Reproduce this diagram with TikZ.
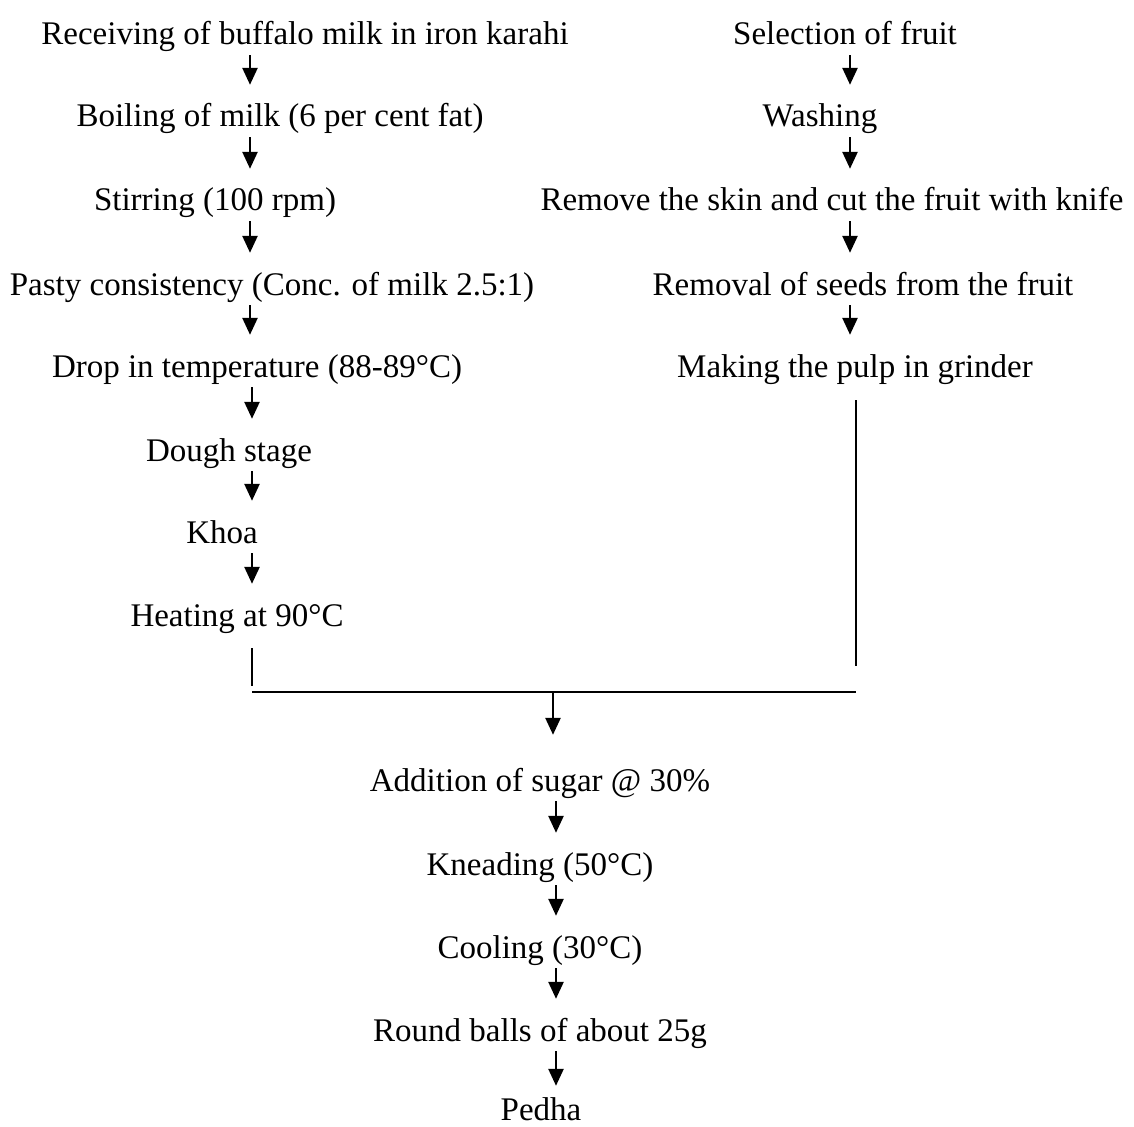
\documentclass[tikz,border=0pt]{standalone}
\usepackage{fontspec}
\setmainfont{Liberation Serif}
\usepackage{tikz}
\usetikzlibrary{arrows.meta}
\tikzstyle{Stage}=[inner xsep=0pt, inner ysep=5pt, text height=27pt, text depth=5pt, font=\fontsize{33}{40}\selectfont, text=black]
\tikzstyle{arrow}=[line width=2.6pt, draw=black, -{Triangle[length=17pt, width=15pt]}, shorten >=10pt]
\tikzstyle{joint}=[line width=2.6pt, draw=black]
\pgfdeclarelayer{nodelayer}
\pgfdeclarelayer{edgelayer}
\pgfsetlayers{nodelayer, edgelayer}

\begin{document}
\begin{tikzpicture}[x=1pt, y=-1pt]
	\useasboundingbox (0,0) rectangle (1134,1126);
	\begin{pgfonlayer}{nodelayer}
		% khoa side
		\node [style=Stage] (receiving) at (305, 34) {Receiving of buffalo milk in iron karahi};
		\node [style=Stage] (boiling) at (280, 116) {Boiling of milk (6 per cent fat)};
		\node [style=Stage] (stirring) at (215, 200) {Stirring (100 rpm)};
		\node [style=Stage] (pasty) at (272, 284) {Pasty consistency (Conc. of milk 2.5:1)};
		\node [style=Stage] (drop) at (257, 366) {Drop in temperature (88-89\textdegree C)};
		\node [style=Stage] (dough) at (229, 450) {Dough stage};
		\node [style=Stage] (khoa) at (222, 532) {Khoa};
		\node [style=Stage] (heating) at (237, 615) {Heating at 90\textdegree C};
		% fruit side
		\node [style=Stage] (selection) at (845, 34) {Selection of fruit};
		\node [style=Stage] (washing) at (820, 116) {Washing};
		\node [style=Stage] (skin) at (832, 200) {Remove the skin and cut the fruit with knife};
		\node [style=Stage] (seeds) at (863, 284) {Removal of seeds from the fruit};
		\node [style=Stage] (pulp) at (855, 366) {Making the pulp in grinder};
		% pedha
		\node [style=Stage] (sugar) at (540, 780) {Addition of sugar @ 30\%};
		\node [style=Stage] (kneading) at (540, 864) {Kneading (50\textdegree C)};
		\node [style=Stage] (cooling) at (540, 947) {Cooling (30\textdegree C)};
		\node [style=Stage] (balls) at (540, 1030) {Round balls of about 25g};
		\node [style=Stage, inner ysep=2pt] (pedha) at (541, 1109) {Pedha};
		\coordinate (lcol) at (250, 0);
		\coordinate (rcol) at (850, 0);
		\coordinate (ccol) at (556, 0);
		\coordinate (joinL) at (252, 692);
		\coordinate (joinR) at (856, 692);
		\coordinate (joinM) at (553, 692);
	\end{pgfonlayer}
	\begin{pgfonlayer}{edgelayer}
		\draw [style=arrow] (receiving.south -| lcol) to (boiling.north -| lcol);
		\draw [style=arrow] (boiling.south -| lcol) to (stirring.north -| lcol);
		\draw [style=arrow] (stirring.south -| lcol) to (pasty.north -| lcol);
		\draw [style=arrow] (pasty.south -| lcol) to (drop.north -| lcol);
		\draw [style=arrow] (drop.south -| joinL) to (dough.north -| joinL);
		\draw [style=arrow] (dough.south -| joinL) to (khoa.north -| joinL);
		\draw [style=arrow] (khoa.south -| joinL) to (heating.north -| joinL);

		\draw [style=arrow] (selection.south -| rcol) to (washing.north -| rcol);
		\draw [style=arrow] (washing.south -| rcol) to (skin.north -| rcol);
		\draw [style=arrow] (skin.south -| rcol) to (seeds.north -| rcol);
		\draw [style=arrow] (seeds.south -| rcol) to (pulp.north -| rcol);

		% joining lines
		\draw [style=joint, shorten <=12pt, shorten >=6pt] (heating.south -| joinL) to (joinL);
		\draw [style=joint, shorten <=13pt, shorten >=26pt] (pulp.south -| joinR) to (joinR);
		\draw [style=joint] (joinL) to (joinR);
		\draw [style=arrow, shorten >=24pt] (joinM) to (sugar.north -| joinM);

		\draw [style=arrow] (sugar.south -| ccol) to (kneading.north -| ccol);
		\draw [style=arrow] (kneading.south -| ccol) to (cooling.north -| ccol);
		\draw [style=arrow] (cooling.south -| ccol) to (balls.north -| ccol);
		\draw [style=arrow, shorten >=5pt] (balls.south -| ccol) to (pedha.north -| ccol);
	\end{pgfonlayer}
\end{tikzpicture}
\end{document}
